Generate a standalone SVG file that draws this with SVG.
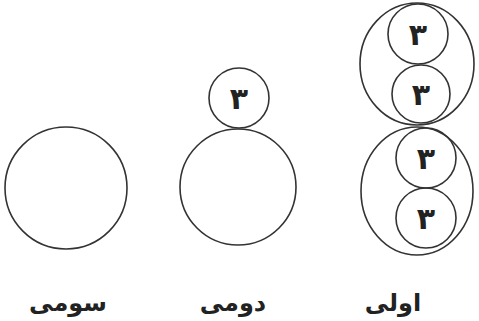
<svg xmlns="http://www.w3.org/2000/svg" width="479" height="321" viewBox="0 0 479 321">
<style>
.c{fill:none;stroke:#333;stroke-width:1.6}
.n{font-family:"DejaVu Sans",sans-serif;font-weight:bold;font-size:30px;fill:#222;text-anchor:middle}
.l{font-family:"DejaVu Sans",sans-serif;font-weight:bold;font-size:24px;fill:#222;text-anchor:middle}
</style>
<rect width="479" height="321" fill="#fff"/>
<g id="third">
<circle class="c" cx="66" cy="188" r="61"/>
<text class="l" x="68" y="311" direction="rtl">سومی</text>
</g>
<g id="second">
<circle class="c" cx="238" cy="187" r="58"/>
<circle class="c" cx="239" cy="98" r="30"/>
<text class="n" x="239" y="109">۳</text>
<text class="l" x="233" y="311" direction="rtl">دومی</text>
</g>
<g id="first">
<ellipse class="c" cx="417" cy="64" rx="57" ry="61"/>
<circle class="c" cx="418" cy="34" r="30"/>
<circle class="c" cx="421" cy="94" r="29"/>
<ellipse class="c" cx="417" cy="191" rx="56" ry="64"/>
<circle class="c" cx="426" cy="158" r="30"/>
<circle class="c" cx="426" cy="218" r="30"/>
<text class="n" x="418" y="45">۳</text>
<text class="n" x="421" y="105">۳</text>
<text class="n" x="426" y="169">۳</text>
<text class="n" x="426" y="229">۳</text>
<text class="l" x="393" y="311" direction="rtl">اولی</text>
</g>
<g id="connectors"/>
</svg>
